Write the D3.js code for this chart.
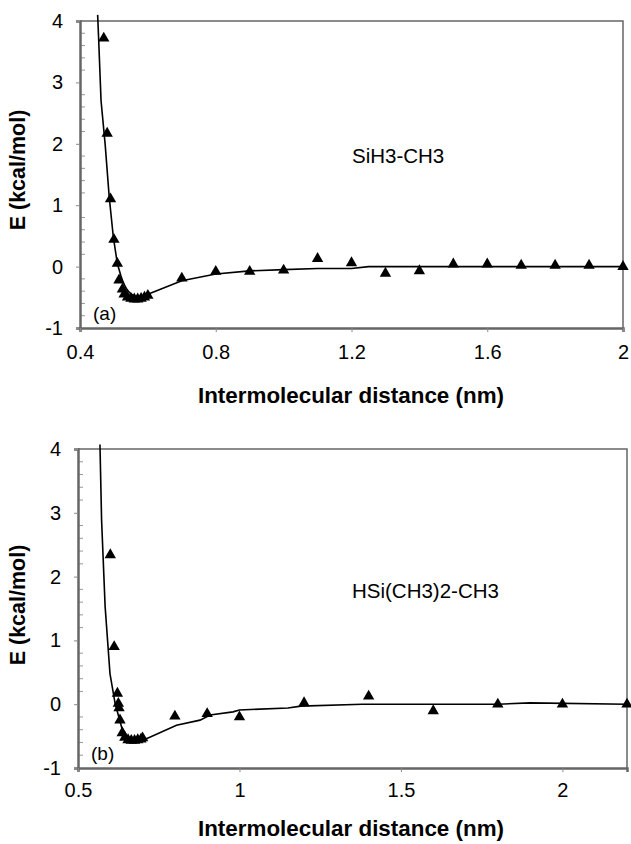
<!DOCTYPE html>
<html>
<head>
<meta charset="utf-8">
<script src="https://cdn.jsdelivr.net/npm/d3@7"></script>
<style>
  body { margin: 0; background: #fff; }
  svg { display: block; font-family: "Liberation Sans", Arial, sans-serif; }
</style>
</head>
<body>
<svg width="631" height="844"></svg>
<script>
// données panneau (a)
let ptsAx = [0.47, 0.48, 0.49, 0.50, 0.51, 0.515, 0.525, 0.53, 0.54, 0.55, 0.56, 0.57, 0.58, 0.59, 0.60,
             0.7, 0.8, 0.9, 1.0, 1.1, 1.2, 1.3, 1.4, 1.5, 1.6, 1.7, 1.8, 1.9, 2.0];
let ptsAy = [3.72, 2.17, 1.10, 0.44, 0.05, -0.22, -0.37, -0.45, -0.50, -0.52, -0.53, -0.53, -0.52, -0.50, -0.47,
             -0.19, -0.08, -0.08, -0.06, 0.13, 0.06, -0.11, -0.07, 0.04, 0.04, 0.02, 0.02, 0.02, 0.0];
let fitAx = [0.452, 0.455, 0.462, 0.474, 0.486, 0.498, 0.51, 0.52, 0.528, 0.538, 0.547, 0.557, 0.567, 0.58, 0.6,
             0.7, 0.8, 0.9, 1.0, 1.1, 1.2, 1.25, 1.6, 2.0];
let fitAy = [4.1, 3.7, 2.7, 2.0, 1.14, 0.49, 0.05, -0.14, -0.27, -0.37, -0.43, -0.47, -0.49, -0.49, -0.45,
             -0.23, -0.12, -0.07, -0.05, -0.03, -0.03, 0.0, 0.0, 0.0];

// données panneau (b)
let ptsBx = [0.60, 0.612, 0.622, 0.625, 0.627, 0.63, 0.637, 0.645, 0.655, 0.665, 0.675, 0.685, 0.695, 0.70,
             0.8, 0.9, 1.0, 1.2, 1.4, 1.6, 1.8, 2.0, 2.2];
let ptsBy = [2.34, 0.90, 0.17, 0.01, -0.06, -0.25, -0.45, -0.52, -0.56, -0.57, -0.57, -0.56, -0.55, -0.53,
             -0.19, -0.15, -0.2, 0.02, 0.125, -0.105, 0.0, 0.0, 0.0];
let fitBx = [0.568, 0.573, 0.584, 0.599, 0.615, 0.635, 0.656, 0.68, 0.712, 0.805, 0.878, 0.909, 0.98, 1.0,
             1.15, 1.19, 1.38, 1.8, 1.9, 2.2];
let fitBy = [4.07, 2.89, 1.53, 0.48, 0.01, -0.36, -0.54, -0.57, -0.54, -0.33, -0.25, -0.17, -0.12, -0.09,
             -0.06, -0.03, 0.0, 0.0, 0.02, 0.0];

let ticksY = [-1, 0, 1, 2, 3, 4];
let ticksAx = [0.4, 0.8, 1.2, 1.6, 2];
let ticksBx = [0.5, 1, 1.5, 2];

let svg = d3.select("svg");

function panneau(o) {
    let g = svg.append("g");
    let x = d3.scaleLinear().domain(o.xdom).range([o.left, o.right]);
    let y = d3.scaleLinear().domain([-1, 4]).range([o.bottom, o.top]);

    // cadre haut/droite
    g.append("path")
        .attr("d", `M${o.left},${o.top}H${o.right}V${o.bottom}`)
        .attr("fill", "none")
        .attr("stroke", "#666")
        .attr("stroke-width", 1.5);

    // graduations mineures (vers l'intérieur)
    let mineures = d3.range(-1, 4.001, 0.2).filter(v => Math.abs(v - Math.round(v)) > 0.01);
    g.selectAll("line.min").data(mineures).enter()
        .append("line")
        .attr("x1", o.left).attr("x2", o.left + 5)
        .attr("y1", d => y(d)).attr("y2", d => y(d))
        .attr("stroke", "#999").attr("stroke-width", 1);

    // axe y
    let ay = g.append("g")
        .attr("transform", `translate(${o.left},0)`)
        .call(d3.axisLeft(y).tickValues(ticksY).tickSize(4).tickPadding(13).tickFormat(d => String(d)));
    ay.select(".domain").attr("stroke", "#666").attr("stroke-width", 2.5);
    ay.selectAll(".tick line").attr("stroke", "#888");
    ay.selectAll("text").attr("font-size", 20).attr("fill", "#000").attr("font-family", "Liberation Sans, Arial");

    // axe x
    let ax = g.append("g")
        .attr("transform", `translate(0,${o.bottom})`)
        .call(d3.axisBottom(x).tickValues(o.ticksX).tickSize(4).tickPadding(o.padX).tickFormat(d => String(d)));
    ax.select(".domain").attr("stroke", "#666").attr("stroke-width", 2.5);
    ax.selectAll(".tick line").attr("stroke", "#888");
    ax.selectAll("text").attr("font-size", 20).attr("fill", "#000").attr("font-family", "Liberation Sans, Arial");

    // courbe ajustée
    let ligne = d3.line().x(d => x(d[0])).y(d => y(d[1]));
    g.append("path")
        .datum(d3.zip(o.fitX, o.fitY))
        .attr("d", ligne)
        .attr("fill", "none")
        .attr("stroke", "#000")
        .attr("stroke-width", 1.6);

    // triangles
    g.selectAll("path.pt").data(d3.zip(o.ptsX, o.ptsY)).enter()
        .append("path")
        .attr("class", "pt")
        .attr("d", d3.symbol(d3.symbolTriangle, 56))
        .attr("transform", d => `translate(${x(d[0])},${y(d[1])})`)
        .attr("fill", "#000");

    // textes
    g.append("text")
        .attr("x", 351).attr("y", o.titleY)
        .attr("text-anchor", "middle")
        .attr("font-weight", "bold").attr("font-size", 22.4)
        .text("Intermolecular distance (nm)");

    g.append("text")
        .attr("transform", `translate(25,${o.titleMid}) rotate(-90)`)
        .attr("text-anchor", "middle")
        .attr("font-weight", "bold").attr("font-size", 21.5)
        .text("E (kcal/mol)");

    g.append("text")
        .attr("x", o.left + 13).attr("y", o.bottom - 8)
        .attr("font-size", 19)
        .text(o.lettre);

    g.append("text")
        .attr("x", 352).attr("y", o.molY)
        .attr("font-size", 20.5)
        .text(o.molecule);
}

panneau({
    xdom: [0.4, 2.0], left: 80, right: 623, top: 21, bottom: 328,
    ticksX: ticksAx, ptsX: ptsAx, ptsY: ptsAy, fitX: fitAx, fitY: fitAy, padX: 13,
    titleY: 403, titleMid: 170, lettre: "(a)", molecule: "SiH3-CH3", molY: 163
});

panneau({
    xdom: [0.5, 2.2], left: 78, right: 627, top: 449, bottom: 768,
    ticksX: ticksBx, ptsX: ptsBx, ptsY: ptsBy, fitX: fitBx, fitY: fitBy, padX: 11,
    titleY: 836, titleMid: 605, lettre: "(b)", molecule: "HSi(CH3)2-CH3", molY: 598
});
</script>
</body>
</html>
